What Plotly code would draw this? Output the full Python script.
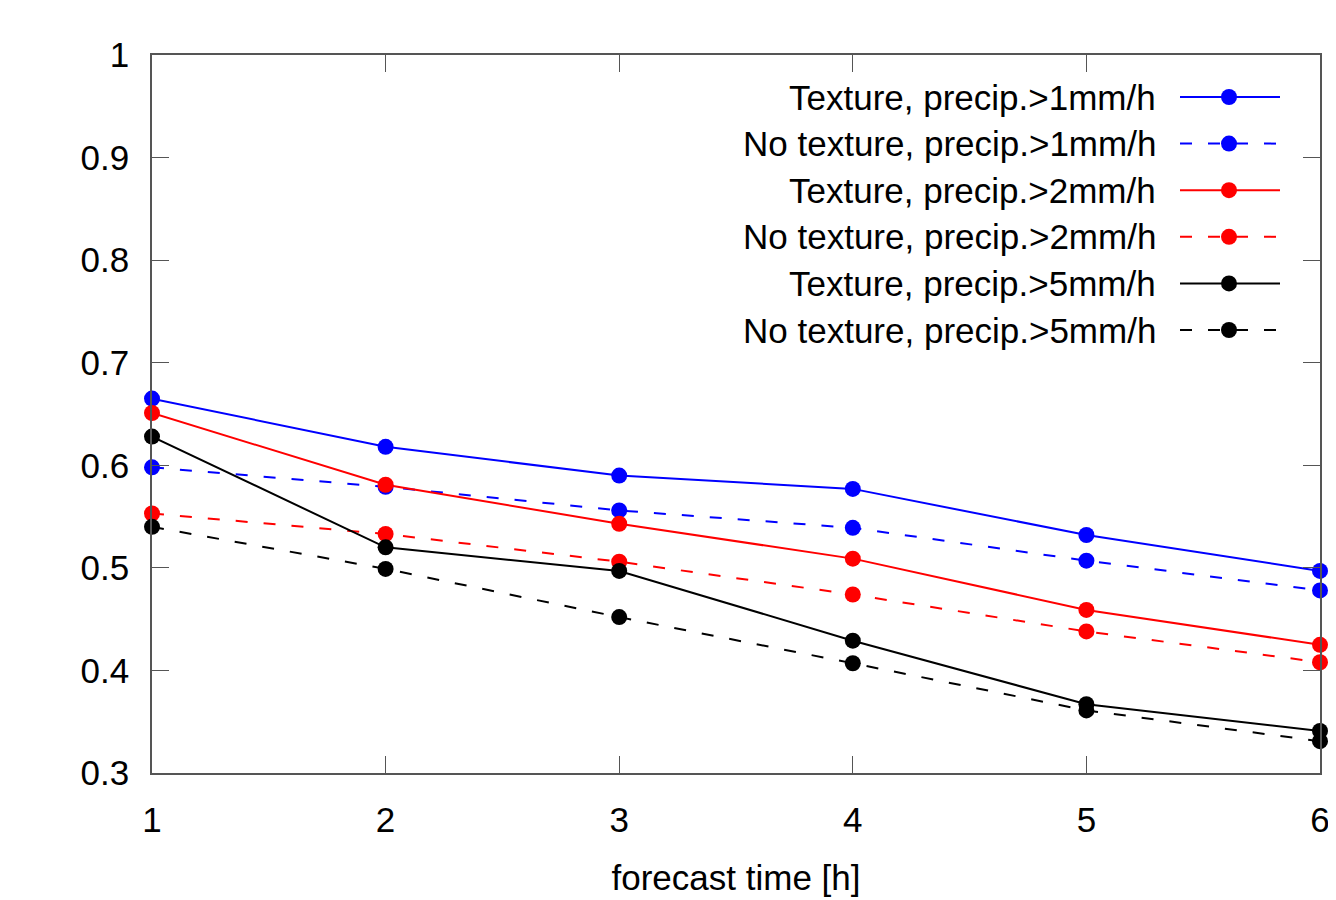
import plotly.graph_objects as go

hours = [1, 2, 3, 4, 5, 6]

tex_1mm = [0.665, 0.618, 0.590, 0.577, 0.532, 0.497]
notex_1mm = [0.598, 0.579, 0.556, 0.539, 0.507, 0.478]
tex_2mm = [0.651, 0.581, 0.543, 0.509, 0.459, 0.425]
notex_2mm = [0.553, 0.533, 0.506, 0.474, 0.438, 0.408]
tex_5mm = [0.628, 0.520, 0.497, 0.429, 0.367, 0.341]
notex_5mm = [0.540, 0.499, 0.452, 0.407, 0.361, 0.331]

names = [
    "Texture, precip.>1mm/h",
    "No texture, precip.>1mm/h",
    "Texture, precip.>2mm/h",
    "No texture, precip.>2mm/h",
    "Texture, precip.>5mm/h",
    "No texture, precip.>5mm/h",
]
series = [tex_1mm, notex_1mm, tex_2mm, notex_2mm, tex_5mm, notex_5mm]
colors = ["#0000ff", "#0000ff", "#ff0000", "#ff0000", "#000000", "#000000"]
DASH = "12px,16px"
dashes = ["solid", DASH, "solid", DASH, "solid", DASH]

FONT = "Liberation Sans, Arial, sans-serif"
FS = 35
# page body has an 8px offset, so the figure is drawn 8px smaller
W, H = 1328, 892
L, R, T, B = 144, 16, 47, 127

fig = go.Figure()
for name, ys, c, d in zip(names, series, colors, dashes):
    fig.add_trace(go.Scatter(
        x=hours, y=ys, name=name, mode="lines+markers",
        line=dict(color=c, width=2, dash=d),
        marker=dict(color=c, size=16),
        showlegend=False, cliponaxis=False,
    ))

# custom gnuplot-style legend (text right-aligned, sample on the right)
pw = W - L - R
ph = H - T - B
def px2paper_x(px):
    return (px - L) / pw
def px2paper_y(py):
    return 1 - (py - T) / ph

row0, rowstep = 89, 46.6
for i, (name, c, d) in enumerate(zip(names, colors, dashes)):
    yy = px2paper_y(row0 + i * rowstep)
    fig.add_annotation(
        x=px2paper_x(1150), y=yy, xref="paper", yref="paper",
        text=name, showarrow=False, xanchor="right", yanchor="middle",
        font=dict(family=FONT, size=FS, color="#000000"),
    )
    fig.add_shape(
        type="line", xref="paper", yref="paper",
        x0=px2paper_x(1172), x1=px2paper_x(1272), y0=yy, y1=yy,
        line=dict(color=c, width=2, dash=d),
    )
    r = 8
    fig.add_shape(
        type="circle", xref="paper", yref="paper",
        x0=px2paper_x(1221 - r), x1=px2paper_x(1221 + r),
        y0=yy - r / ph, y1=yy + r / ph,
        fillcolor=c, line=dict(color=c, width=0),
    )

axis_common = dict(
    showline=True, linecolor="#555555", linewidth=1.5, mirror="ticks",
    ticks="inside", ticklen=17, tickwidth=1.2, tickcolor="#555555",
    showgrid=False, zeroline=False,
    tickfont=dict(family=FONT, size=FS, color="#000000"),
)

fig.update_xaxes(
    range=[1, 6], tickvals=hours, ticktext=[str(h) for h in hours],
    ticklabelstandoff=15, ticklabeloverflow="allow",
    title=dict(text="forecast time [h]", font=dict(family=FONT, size=FS, color="#000000"), standoff=28),
    **axis_common,
)
fig.update_yaxes(
    range=[0.3, 1.0], tickvals=[0.3, 0.4, 0.5, 0.6, 0.7, 0.8, 0.9, 1.0],
    ticktext=["0.3", "0.4", "0.5", "0.6", "0.7", "0.8", "0.9", "1"],
    ticklabelstandoff=14,
    **axis_common,
)

fig.update_layout(
    width=W, height=H,
    margin=dict(l=L, r=R, t=T, b=B, autoexpand=False),
    paper_bgcolor="white", plot_bgcolor="white",
    showlegend=False,
)

fig.write_html("out.html")
